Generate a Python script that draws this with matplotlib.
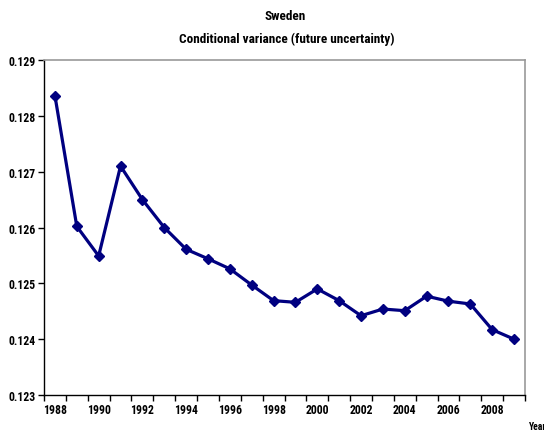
import matplotlib
matplotlib.use("Agg")
import matplotlib.pyplot as plt
import numpy as np
from matplotlib import font_manager

years = list(range(1988, 2010))
variance = [0.12836, 0.12602, 0.12549, 0.12710, 0.12650, 0.12600, 0.12561, 0.12544,
            0.12526, 0.12497, 0.12469, 0.12466, 0.12490, 0.12469, 0.12442, 0.12454,
            0.12451, 0.12477, 0.12468, 0.12463, 0.12417, 0.12400]
ytick_vals = [0.123, 0.124, 0.125, 0.126, 0.127, 0.128, 0.129]
title = "Sweden\nConditional variance (future uncertainty)"

names = {f.name for f in font_manager.fontManager.ttflist}
prefs = ["Liberation Sans Narrow", "Arial Narrow", "Roboto Condensed", "Archivo Narrow",
         "Open Sans Condensed", "Liberation Sans"]
fam = [f for f in prefs if f in names][:1] + ["DejaVu Sans"]
plt.rcParams['font.family'] = fam

fig = plt.figure(figsize=(5.44, 4.31), dpi=100)
L, R, T, B = 44, 525, 61, 396
ax = fig.add_axes([L/544, 1-B/431, (R-L)/544, (B-T)/431])

x = np.arange(len(years))
ax.plot(x, variance, color="#000080", linewidth=2.3, marker="D", markersize=5.5,
        markeredgecolor="#000080", markerfacecolor="#000080")

ax.set_xlim(-0.5, len(years) - 0.5)
ax.set_ylim(0.123, 0.129)
ax.set_yticks(ytick_vals)
ax.set_yticklabels([f"{v:.3f}" for v in ytick_vals], fontsize=8.5, fontweight="bold")

ax.set_xticks(x[::2])
ax.set_xticklabels([str(y) for y in years[::2]], fontsize=8.5, fontweight="bold")
ax.tick_params(axis="x", which="major", length=0, pad=6)
ax.set_xticks(np.arange(-0.5, len(years)), minor=True)
ax.tick_params(axis="x", which="minor", length=4, width=1, direction="out", color="black")
ax.tick_params(axis="y", which="major", length=4, width=1, direction="out", color="black", pad=2)

for s in ["top", "right"]:
    ax.spines[s].set_color("#999999")
    ax.spines[s].set_linewidth(1.2)
for s in ["left", "bottom"]:
    ax.spines[s].set_color("black")
    ax.spines[s].set_linewidth(1)

title_lines = title.split("\n")
fig.text(285/544, 1 - 17/431, title_lines[0], ha="center", va="center", fontsize=9.5, fontweight="bold")
fig.text(287/544, 1 - 39/431, title_lines[1], ha="center",
         va="center", fontsize=9.5, fontweight="bold")
fig.text(529/544, 1 - 427/431, "Year", ha="left", va="center", fontsize=7, fontweight="bold")

fig.savefig("out.png", dpi=100)
